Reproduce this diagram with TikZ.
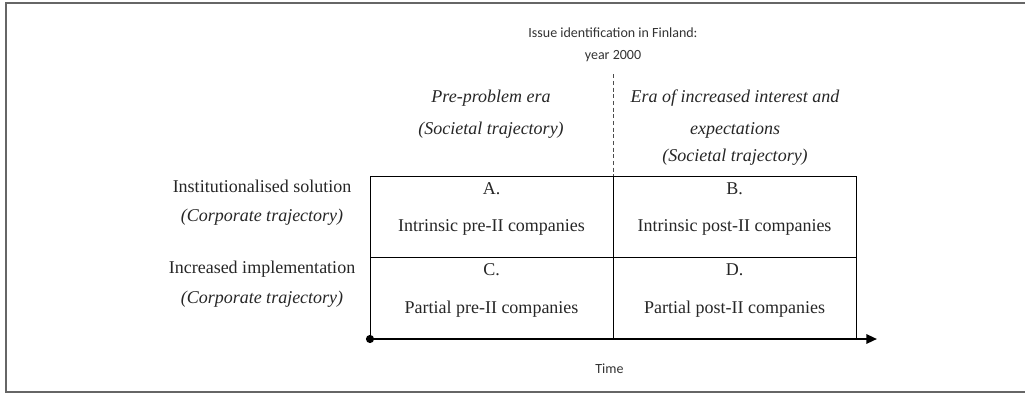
\documentclass[tikz,border=0pt]{standalone}
\usepackage{fontspec}
\setmainfont{Liberation Serif}
\newfontfamily\calibrifont{Carlito}
\usetikzlibrary{arrows.meta,positioning}

\begin{document}
\begin{tikzpicture}[x=0.75pt,y=-0.75pt,
	cell/.style={draw,line width=0.6pt,minimum width=182.25pt,minimum height=61pt,inner sep=0pt,outer sep=0pt},
	serif/.style={font=\fontsize{13.5}{16}\selectfont,text=black!85,align=center},
	sans/.style={font=\calibrifont\fontsize{10.5}{13}\selectfont,text=black!80,align=center}]
	\useasboundingbox (0,0) rectangle (1025,394);
	\draw[line width=1.5pt,black!60] (6,2.5) rectangle (1028,392);

	% the four quadrants
	\node[cell] (a) at (491.5,217) {};
	\node[cell] (b) [right=0pt of a] {};
	\node[cell] (c) [below=0pt of a] {};
	\node[cell] (d) [below=0pt of b] {};

	\node[serif] (a-id) at ([yshift=-9pt]a.north) {A.};
	\node[serif] (b-id) at ([yshift=-9pt]b.north) {B.};
	\node[serif] (c-id) at ([yshift=-9pt]c.north) {C.};
	\node[serif] (d-id) at ([yshift=-9pt]d.north) {D.};
	\node[serif] (a-txt) at ([yshift=-7.5pt]a.center) {Intrinsic pre-II companies};
	\node[serif] (b-txt) at ([yshift=-7.5pt]b.center) {Intrinsic post-II companies};
	\node[serif] (c-txt) at ([yshift=-8pt]c.center) {Partial pre-II companies};
	\node[serif] (d-txt) at ([yshift=-8pt]d.center) {Partial post-II companies};

	% eras and trajectories
	\node[sans] (issue) at (613,44.5) {Issue identification in Finland:\\[3.5pt]year 2000};
	\node[serif] (pre) at (491,114.5) {\itshape Pre-problem era\\[8pt]\itshape (Societal trajectory)};
	\node[serif] (post) at (735,128) {\itshape Era of increased interest and\\[8pt]\itshape expectations\\[4.25pt]\itshape (Societal trajectory)};
	\node[serif] (inst) at (262,202.5) {Institutionalised solution\\[5.75pt]\itshape (Corporate trajectory)};
	\node[serif] (impl) at (262,284) {Increased implementation\\[6.5pt]\itshape (Corporate trajectory)};

	\draw[dashed,dash pattern=on 3pt off 2pt,line width=0.5pt,black!70,shorten <=6pt] (issue.south) -- (a.north east);

	% time axis
	\coordinate (t-end) at ([xshift=15.75pt]d.south east);
	\draw[line width=1.6pt,shorten <=-3pt,{Circle[length=6pt]}-{Triangle[length=8pt,width=7pt]}] (c.south west) -- (t-end);
	\node[sans] (time) at (609.5,369) {Time};
\end{tikzpicture}
\end{document}
